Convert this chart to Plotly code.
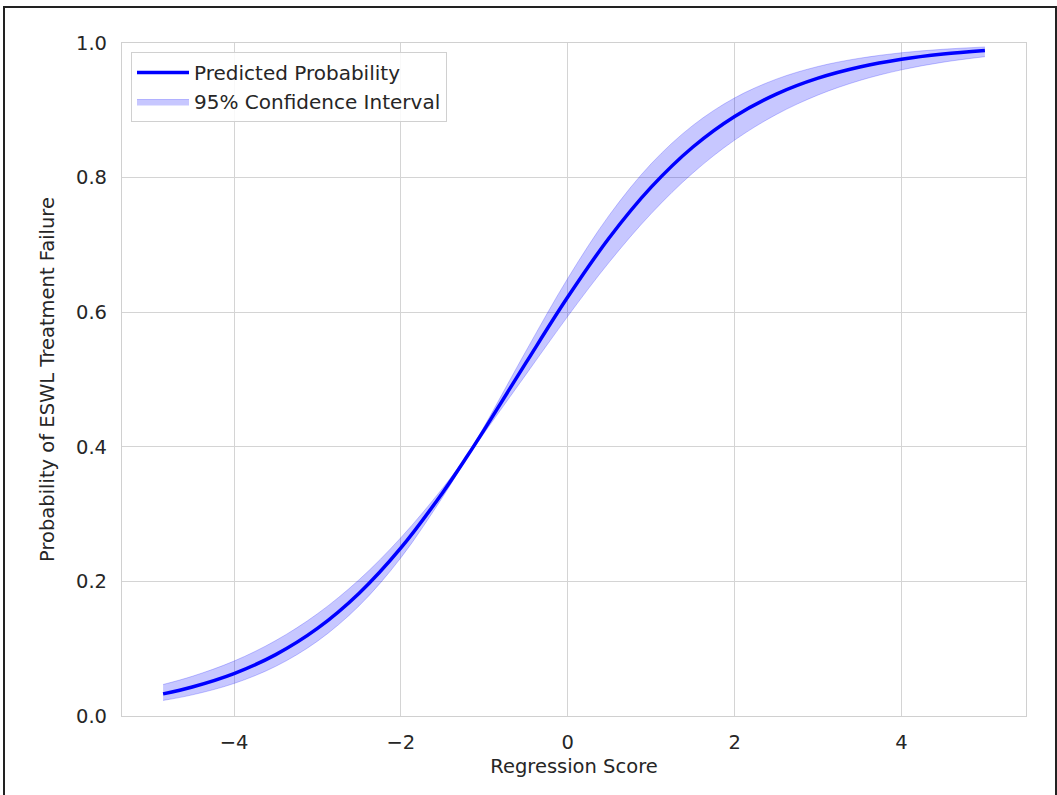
import plotly.graph_objects as go

# Regression score (x) and read-off probabilities
score = [-4.85, -4.5, -4.0, -3.5, -3.0, -2.5, -2.0, -1.5, -1.2, -1.0, -0.5,
         0.0, 0.5, 1.0, 1.5, 2.0, 2.5, 3.0, 3.5, 4.0, 4.5, 5.0]
prob = [0.0329, 0.0431, 0.0630, 0.0912, 0.1301, 0.1824, 0.2497, 0.3318, 0.3870,
        0.4256, 0.5250, 0.6225, 0.7110, 0.7858, 0.8455, 0.8909, 0.9241, 0.9478,
        0.9644, 0.9759, 0.9837, 0.9890]
ci_low = [0.0231, 0.0314, 0.0483, 0.0738, 0.1111, 0.1638, 0.2351, 0.3252, 0.3850,
          0.4207, 0.5075, 0.5939, 0.6748, 0.7465, 0.8069, 0.8557, 0.8938, 0.9227,
          0.9443, 0.9601, 0.9715, 0.9797]
ci_high = [0.0468, 0.0590, 0.0816, 0.1121, 0.1519, 0.2026, 0.2650, 0.3385, 0.3890,
           0.4305, 0.5424, 0.6502, 0.7446, 0.8206, 0.8776, 0.9184, 0.9463, 0.9651,
           0.9774, 0.9855, 0.9907, 0.9941]

x_ticks = [-4, -2, 0, 2, 4]
x_tick_text = ["\u22124", "\u22122", "0", "2", "4"]
y_ticks = [0.0, 0.2, 0.4, 0.6, 0.8, 1.0]
y_tick_text = ["0.0", "0.2", "0.4", "0.6", "0.8", "1.0"]

band_color = "rgba(0,0,255,0.22)"
font_family = "DejaVu Sans"
text_color = "#262626"
fs = 19.5

fig = go.Figure()
fig.add_trace(go.Scatter(
    x=score, y=ci_low, mode="lines", line=dict(color=band_color, width=1, shape="spline"),
    showlegend=False, hoverinfo="skip"))
fig.add_trace(go.Scatter(
    x=score, y=ci_high, mode="lines", line=dict(color=band_color, width=1, shape="spline"),
    fill="tonexty", fillcolor=band_color, name="95% Confidence Interval", legendrank=2))
fig.add_trace(go.Scatter(
    x=score, y=prob, mode="lines", line=dict(color="#0000ff", width=3.5, shape="spline"),
    name="Predicted Probability", legendrank=1))

W, H = 1057, 795
L, R, T, B = 122, 31, 43, 79
pw, ph = W - L - R, H - T - B

def px(xp):
    return (xp - L) / pw

def py(yp):
    return (H - B - yp) / ph

fig.update_layout(
    width=W, height=H,
    margin=dict(l=L, r=R, t=T, b=B),
    paper_bgcolor="white", plot_bgcolor="white",
    font=dict(family=font_family, size=fs, color=text_color),
    showlegend=True,
    legend=dict(
        x=px(131), y=py(52), xanchor="left", yanchor="top",
        bgcolor="rgba(255,255,255,0.85)", bordercolor="#d0d0d0", borderwidth=1,
        font=dict(size=20, color=text_color), traceorder="normal",
        itemwidth=52, tracegroupgap=2,
    ),
    xaxis=dict(
        range=[-5.3425, 5.4925], tickvals=x_ticks, ticktext=x_tick_text,
        showgrid=True, gridcolor="#d4d4d4", gridwidth=1, zeroline=False,
        showline=True, linecolor="#d0d0d0", linewidth=1.2, mirror=True,
        ticks="outside", ticklen=8, tickcolor="rgba(0,0,0,0)",
        tickfont=dict(size=fs, color=text_color),
        title=dict(text="Regression Score", font=dict(size=fs, color=text_color), standoff=6),
    ),
    yaxis=dict(
        range=[0, 1], tickvals=y_ticks, ticktext=y_tick_text,
        showgrid=True, gridcolor="#d4d4d4", gridwidth=1, zeroline=False,
        showline=True, linecolor="#d0d0d0", linewidth=1.2, mirror=True,
        ticks="outside", ticklen=10, tickcolor="rgba(0,0,0,0)",
        tickfont=dict(size=fs, color=text_color),
        title=dict(text="Probability of ESWL Treatment Failure",
                   font=dict(size=fs, color=text_color), standoff=16),
    ),
    shapes=[dict(
        type="rect", xref="paper", yref="paper",
        x0=px(4), x1=px(1056), y0=py(800), y1=py(7),
        line=dict(color="#222222", width=2), fillcolor="rgba(0,0,0,0)", layer="above",
    )],
)

fig.write_html("out.html")
